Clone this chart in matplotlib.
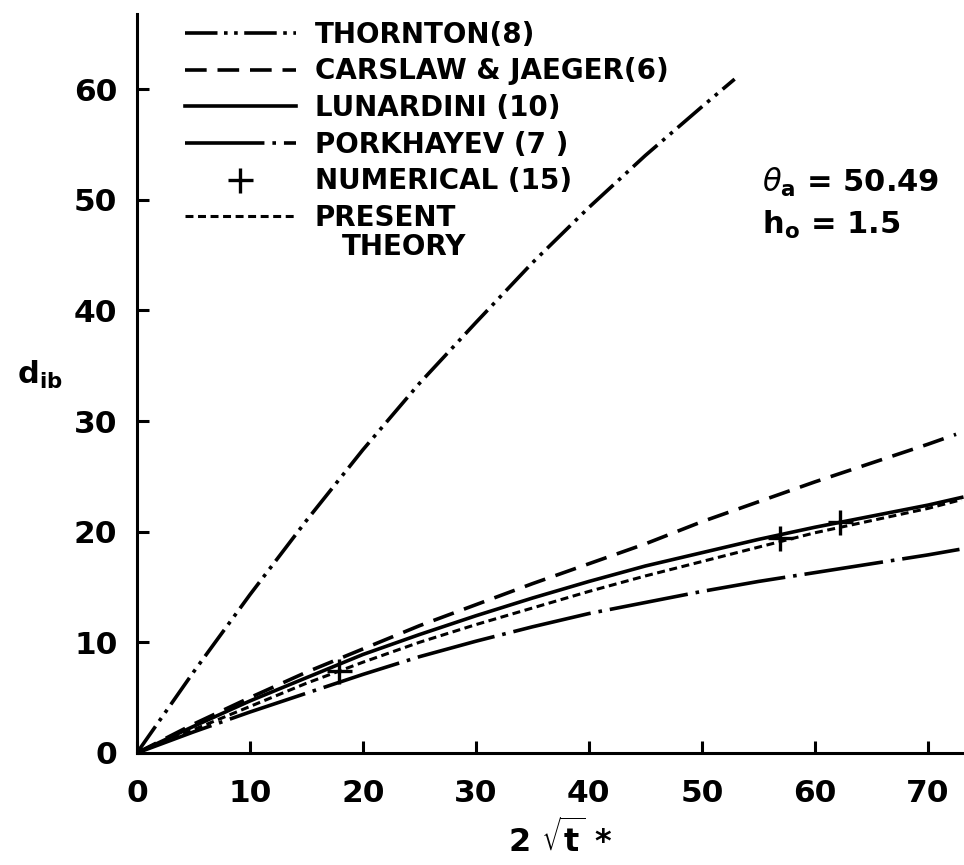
import matplotlib
matplotlib.use('Agg')
import matplotlib.pyplot as plt

# values
thornton_x = [0, 5, 10, 15, 20, 25, 30, 35, 40, 45, 50, 52.9]
thornton_d = [0, 7.3, 14.3, 21.0, 27.4, 33.4, 38.9, 44.3, 49.3, 54.0, 58.4, 60.9]

common_x = [0, 5, 10, 15, 20, 25, 30, 35, 40, 45, 50, 55, 60, 65, 70, 73]
lunardini_d = [0, 2.4, 4.7, 6.8, 8.9, 10.7, 12.4, 14.0, 15.5, 16.9, 18.1, 19.3,
               20.4, 21.4, 22.4, 23.1]
present_d = [0, 2.1, 4.2, 6.3, 8.2, 10.0, 11.6, 13.1, 14.6, 16.0, 17.3, 18.6,
             19.9, 21.0, 22.1, 22.9]

carslaw_x = [0, 5, 10, 15, 20, 25, 30, 35, 40, 45, 50, 55, 60, 65, 70, 72.5]
carslaw_d = [0, 2.6, 5.0, 7.3, 9.4, 11.5, 13.4, 15.3, 17.1, 18.9, 20.9, 22.7,
             24.5, 26.2, 27.9, 28.8]

porkhayev_x = [0, 5, 10, 15, 20, 25, 30, 35, 40, 45, 50, 55, 60, 65, 70, 72.8]
porkhayev_d = [0, 1.9, 3.7, 5.4, 7.1, 8.7, 10.1, 11.4, 12.6, 13.6, 14.6, 15.5,
               16.3, 17.1, 17.9, 18.4]

numerical_x = [17.9, 56.9, 62.2]
numerical_d = [7.4, 19.4, 20.9]

x_ticks = [0, 10, 20, 30, 40, 50, 60, 70]
y_ticks = [0, 10, 20, 30, 40, 50, 60]

fig = plt.figure(figsize=(9.64, 8.65), dpi=100)
ax = fig.add_axes([0.142, 0.1295, 0.858, 0.8545])

lw = 2.6
ax.plot(thornton_x, thornton_d, color='black', lw=lw,
        ls=(0, (9, 1.8, 1, 1.8, 1, 1.8)), label='THORNTON(8)')
ax.plot(carslaw_x, carslaw_d, color='black', lw=lw,
        ls=(0, (6, 3)), label='CARSLAW & JAEGER(6)')
ax.plot(common_x, lunardini_d, color='black', lw=lw,
        ls='-', label='LUNARDINI (10)')
ax.plot(porkhayev_x, porkhayev_d, color='black', lw=lw,
        ls=(0, (22, 2.2, 1, 2.2)), label='PORKHAYEV (7 )')
ax.plot(numerical_x, numerical_d, color='black', ls='none', marker='+',
        ms=18, mew=2.4, label='NUMERICAL (15)')
ax.plot(common_x, present_d, color='black', lw=2.2,
        ls=(0, (2.6, 1.5)), label='PRESENT')

ax.set_xlim(0, 73.2)
ax.set_ylim(0, 66.8)
ax.set_xticks(x_ticks)
ax.set_yticks(y_ticks)
ax.spines['top'].set_visible(False)
ax.spines['right'].set_visible(False)
ax.spines['left'].set_linewidth(2.2)
ax.spines['bottom'].set_linewidth(2.2)
ax.tick_params(direction='in', length=8.5, width=2.2, labelsize=22.5)
ax.tick_params(axis='x', pad=19)
ax.tick_params(axis='y', pad=14)
for lab in ax.get_xticklabels() + ax.get_yticklabels():
    lab.set_fontweight('bold')

leg = ax.legend(loc='upper left', bbox_to_anchor=(0.058, 0.9905), frameon=False,
                prop={'size': 20, 'weight': 'bold'}, handlelength=4.0,
                handletextpad=0.68, labelspacing=0.31, borderpad=0,
                borderaxespad=0)

fig.text(342 / 964, 1 - 247 / 865, 'THEORY', fontsize=20, fontweight='bold',
         ha='left', va='center')

fig.text(40 / 964, 1 - 375 / 865, r'd$_{\mathbf{ib}}$', fontsize=22,
         fontweight='bold', ha='center', va='center')
fig.text(560 / 964, 1 - 840 / 865, r'2 $\sqrt{\mathbf{t}}$ *', fontsize=23,
         fontweight='bold', ha='center', va='center')
fig.text(762 / 964, 1 - 182 / 865, r'$\theta_{\mathbf{a}}$ = 50.49', fontsize=22,
         fontweight='bold', ha='left', va='center')
fig.text(762 / 964, 1 - 225 / 865, r'h$_{\mathbf{o}}$ = 1.5', fontsize=22,
         fontweight='bold', ha='left', va='center')

fig.savefig('out.png', dpi=100)
